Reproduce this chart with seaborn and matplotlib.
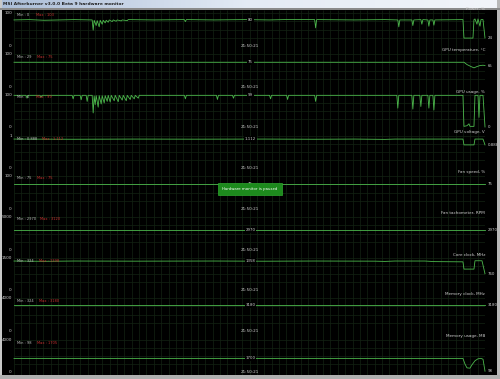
import numpy as np
import pandas as pd
import matplotlib
matplotlib.use("Agg")
import matplotlib.pyplot as plt
from matplotlib.patches import Rectangle
import seaborn as sns

# ---------------- data (x = sample index 0..470, values in sensor units) ----------------
names = ["Power, %", "GPU temperature, \u00b0C", "GPU usage, %", "GPU voltage, V", "Fan speed, %",
         "Fan tachometer, RPM", "Core clock, MHz", "Memory clock, MHz", "Memory usage, MB"]
top_labels = ["100", "100", "100", "1", "100", "5000", "1500", "4000", "4000"]
y_max = [100, 100, 100, 1.23, 100, 5000, 1500, 4000, 4000]
min_labels = ["0", "29", "0", "0.888", "75", "2970", "324", "324", "98"]
max_labels = ["103", "75", "99", "1.112", "75", "3120", "1398", "3180", "1705"]
center_labels = ["80", "75", "99", "1.112", "75", "2970", "1358", "3180", "1700"]
end_labels = ["24", "65", "0", "0.888", "75", "2970", "760", "3180", "98"]
time_label = "21:50:21"

power_pts = [(0, 79), (15, 80), (30, 78), (45, 79), (60, 80), (78, 79), (79, 48), (80, 78), (82, 62), (83, 77),
             (85, 58), (86, 78), (88, 66), (89, 78), (91, 70), (92, 78), (94, 72), (95, 79), (98, 74), (99, 79),
             (102, 75), (103, 79), (107, 76), (108, 79), (113, 77), (114, 80), (140, 79), (170, 80), (171, 74),
             (172, 80), (200, 79), (230, 80), (255, 79), (270, 80), (300, 80), (301, 55), (302, 80), (340, 79),
             (370, 80), (383, 79), (384, 58), (385, 79), (397, 79), (398, 62), (399, 79), (406, 80), (407, 66),
             (408, 80), (413, 79), (414, 60), (415, 79), (418, 79), (419, 63), (420, 79), (448, 80), (449, 24),
             (458, 24), (459, 80), (460, 82), (462, 66), (463, 82), (465, 60), (466, 80), (468, 80), (470, 24)]
temp_pts = [(0, 75), (449, 75), (452, 68), (456, 62), (459, 58), (462, 62), (465, 65), (468, 66), (470, 65)]
usage_pts = [(0, 99), (12, 99), (13, 90), (14, 99), (26, 99), (27, 93), (28, 99), (58, 99), (59, 88), (60, 99),
             (66, 99), (67, 85), (68, 99), (72, 99), (73, 80), (74, 99), (78, 99), (79, 44), (80, 97), (81, 70),
             (82, 98), (84, 62), (85, 98), (87, 72), (88, 98), (90, 75), (91, 98), (93, 80), (94, 99), (96, 78),
             (97, 99), (100, 82), (101, 99), (104, 79), (105, 99), (108, 84), (109, 99), (112, 82), (113, 99),
             (116, 86), (117, 99), (120, 88), (121, 99), (124, 90), (125, 99), (170, 99), (171, 88), (172, 99),
             (202, 99), (203, 86), (204, 99), (218, 99), (219, 90), (220, 99), (255, 99), (256, 88), (257, 99),
             (272, 99), (273, 86), (274, 99), (300, 99), (301, 80), (302, 99), (382, 99), (383, 59), (384, 99),
             (397, 99), (398, 56), (399, 99), (405, 99), (406, 64), (407, 99), (413, 99), (414, 59), (415, 99),
             (418, 99), (419, 53), (420, 99), (448, 99), (449, 2), (452, 4), (454, 10), (455, 2), (459, 2),
             (460, 99), (463, 99), (464, 30), (465, 99), (468, 99), (470, 0)]
volt_pts = [(0, 1.112), (60, 1.105), (120, 1.112), (180, 1.108), (250, 1.112), (300, 1.105), (340, 1.112),
            (370, 1.100), (380, 1.112), (448, 1.112), (449, 0.888), (459, 0.888), (460, 1.112), (468, 1.112),
            (470, 0.888)]
fan_pts = [(0, 75), (470, 75)]
tach_pts = [(0, 2970), (470, 2970)]
core_pts = [(0, 1358), (30, 1345), (60, 1358), (120, 1352), (200, 1358), (250, 1350), (300, 1358), (360, 1352),
            (370, 1340), (380, 1358), (410, 1358), (420, 1330), (448, 1320), (449, 980), (459, 980), (460, 1370),
            (467, 1370), (470, 760)]
memclk_pts = [(0, 3180), (470, 3180)]
memuse_pts = [(0, 1700), (448, 1700), (450, 1000), (452, 520), (455, 480), (457, 900), (460, 1400), (463, 1650),
              (466, 1700), (468, 1600), (470, 100)]
series = [power_pts, temp_pts, usage_pts, volt_pts, fan_pts, tach_pts, core_pts, memclk_pts, memuse_pts]

# ---------------- layout ----------------
W, H = 500, 379
panel_tops = [13, 54, 95, 136, 176, 217, 258, 298, 340]
panel_bots = [46, 87, 127, 168, 209, 250, 290, 331, 372]
X0, X1 = 14, 485
LINE = "#4cb84c"
GRID = "#132313"
TXT = "#cfcfcf"
FS = 3.0

fig = plt.figure(figsize=(W / 100, H / 100), dpi=100, facecolor="black")


def ax_px(x0, y0, x1, y1):
    return fig.add_axes([x0 / W, 1 - y1 / H, (x1 - x0) / W, (y1 - y0) / H])


def ftxt(x, y, s, **kw):
    kw.setdefault("fontsize", FS)
    kw.setdefault("color", TXT)
    fig.text(x / W, 1 - y / H, s, **kw)


# window frame
fig.patches.append(Rectangle((0, 0), 2 / W, 1, transform=fig.transFigure, fc="#c8c8c8", ec="none"))
fig.patches.append(Rectangle((497 / W, 0), 3 / W, 1, transform=fig.transFigure, fc="#b8b8b8", ec="none"))
fig.patches.append(Rectangle((0, 0), 1, 4 / H, transform=fig.transFigure, fc="#b0b0b0", ec="none"))

# title bar
tb = ax_px(0, 0, 500, 8)
grad = np.linspace(0, 1, 256).reshape(1, -1)
cmap = matplotlib.colors.LinearSegmentedColormap.from_list("tb", ["#aabdd8", "#e4ebf5", "#f2f5fa"])
tb.imshow(grad, aspect="auto", cmap=cmap, extent=(0, 1, 0, 1))
tb.set_axis_off()
tb.text(0.006, 0.5, "MSI Afterburner v3.0.0 Beta 9 hardware monitor", fontsize=3.2, color="#202020",
        fontweight="bold", va="center", ha="left", transform=tb.transAxes)
fig.patches.append(Rectangle((0, 1 - 9.5 / H), 1, 1.5 / H, transform=fig.transFigure, fc="#8a8a8a", ec="none"))

# background vertical grid
bg = ax_px(X0, 10, X1, 375)
bg.set_facecolor("black")
bg.set_xlim(0, 470)
bg.set_ylim(0, 1)
bg.vlines(np.linspace(0, 470, 65), 0, 1, color=GRID, lw=0.5)
bg.set_axis_off()

for i, pts in enumerate(series):
    top, bot = panel_tops[i], panel_bots[i]
    ax = ax_px(X0, top, X1, bot)
    ax.patch.set_alpha(0)
    ym = y_max[i]
    ax.set_xlim(0, 470)
    ax.set_ylim(0, ym)
    ax.hlines([ym * f for f in (0, 0.25, 0.5, 0.75, 1.0)], 0, 470, color=GRID, lw=0.5)
    df = pd.DataFrame(pts, columns=["t", "v"])
    sns.lineplot(data=df, x="t", y="v", ax=ax, color=LINE, lw=0.6, estimator=None, sort=False,
                 legend=False, clip_on=False)
    ax.set_axis_off()
    # center value label
    cval = np.interp(236, df["t"], df["v"])
    ax.text(236, cval, center_labels[i], ha="center", va="center", fontsize=2.8, color=TXT,
            bbox=dict(fc="black", ec="none", pad=0.6))
    # right end label
    ax.text(473, df["v"].iloc[-1], end_labels[i], ha="left", va="center", fontsize=2.8, color=TXT, clip_on=False)
    # left scale labels
    ftxt(12, top, top_labels[i], ha="right", va="center")
    ftxt(11, bot, "0", ha="right", va="center")
    ftxt(250, bot, time_label, ha="center", va="center")
    # min / max
    ftxt(17, top + 2.5, "Min : " + min_labels[i], ha="left", va="center", fontsize=2.6, color="#bcbcbc")
    ftxt(34 + 1.6 * len(min_labels[i]), top + 2.5, "Max : " + max_labels[i], ha="left", va="center",
         fontsize=2.6, color="#c83030")
    # series name
    ftxt(485, top - 3.5, names[i], ha="right", va="center")

# paused notice
ftxt(250, 189, "Hardware monitor is paused", ha="center", va="center", fontsize=2.8, color="white",
     bbox=dict(boxstyle="square,pad=1.1", fc="#1d8a1d", ec="#2fa82f", lw=0.5))

fig.savefig("out.png", dpi=100, facecolor="black")
